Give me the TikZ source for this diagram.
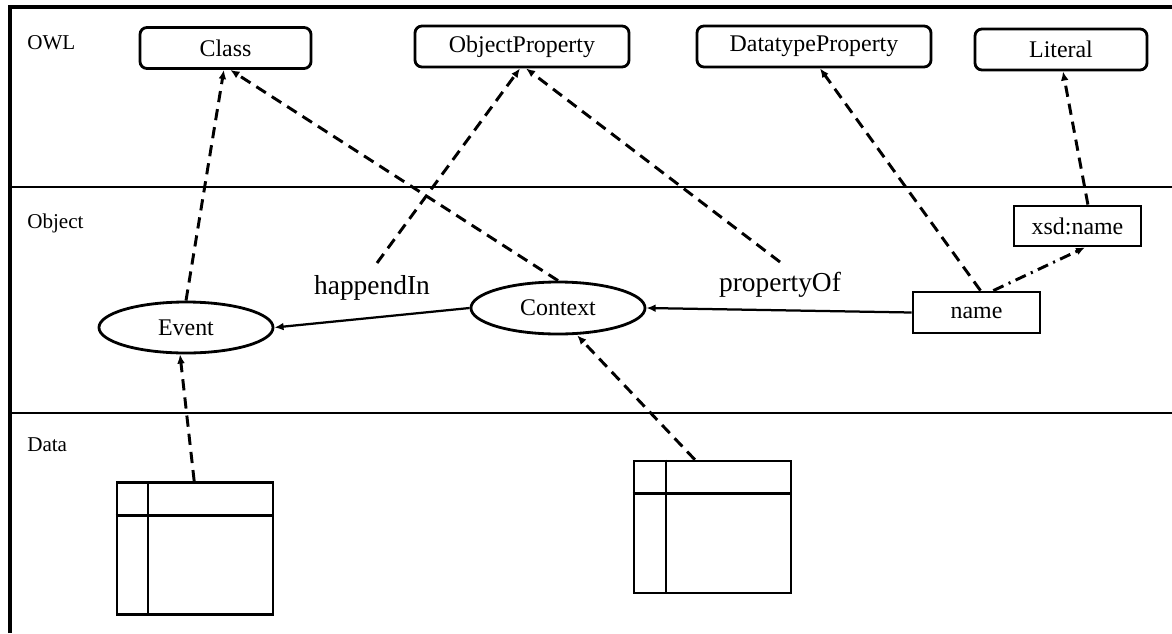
\documentclass[tikz,border=0pt]{standalone}
\usepackage{fontspec}
\setmainfont{Liberation Serif}
\usetikzlibrary{shapes,arrows.meta}
\usetikzlibrary{positioning}
\tikzstyle{owlbox} = [draw, rectangle, rounded corners=5pt, line width=2pt, inner sep=0pt, minimum height=1.025cm, font=\fontsize{17}{20}\selectfont]
\tikzstyle{instance} = [draw, ellipse, line width=2pt, inner sep=0pt, minimum width=4.35cm, minimum height=1.3cm, font=\fontsize{17}{20}\selectfont]
\tikzstyle{attr} = [draw, rectangle, line width=2pt, inner sep=0pt, minimum width=3.175cm, minimum height=1.0cm, font=\fontsize{17}{20}\selectfont]
\tikzstyle{layer} = [anchor=west, inner sep=0pt, font=\fontsize{15}{18}\selectfont]
\tikzstyle{relation} = [inner sep=0pt, font=\fontsize{19.5}{23}\selectfont]
\tikzstyle{table} = [draw, rectangle, line width=1.8pt, minimum width=3.9cm, minimum height=3.3cm]
\tikzstyle{typeof} = [->, line width=2.1pt, dash pattern=on 8pt off 5pt]
\tikzstyle{link} = [->, line width=1.6pt]

\begin{document}
\begin{tikzpicture}[x=0.025cm, y=-0.025cm, >={Latex[length=6.5pt,width=5.5pt]}]
    \useasboundingbox (0,0) rectangle (1172,633);

    % Layers
    \draw [line width=2.2pt] (10,633) -- (10,7) -- (1172,7);
    \draw [line width=1.7pt] (10,187) -- (1172,187);
    \draw [line width=1.7pt] (10,413) -- (1172,413);
    \node [layer] (owl) at (27,43) {OWL};
    \node [layer] (object) at (27,223) {Object};
    \node [layer] (data) at (27,445) {Data};

    % Placing the OWL terms
    \node [owlbox, minimum width=4.275cm] (class) at (225.5,48) {Class};
    \node [owlbox, minimum width=5.35cm] (objprop) at (522,46.5) {ObjectProperty};
    \node [owlbox, minimum width=5.85cm] (dataprop) at (814,46.5) {DatatypeProperty};
    \node [owlbox, minimum width=4.3cm] (literal) at (1061,49.5) {Literal};

    % Placing the objects
    \node [instance, minimum height=1.275cm] (event) at (186,327.5) {Event};
    \node [instance] (context) at (558,308) {Context};
    \node [attr, minimum height=1.025cm] (name) at (976.5,312.5) {name};
    \node [attr] (xsdname) at (1077.5,226) {xsd:name};
    \node [relation] (happendin) at (372,288) {happendIn};
    \node [relation] (propertyof) at (780,285) {propertyOf};
    \coordinate (hin) at (377,263);
    \coordinate (pof) at (780,262);

    % Placing the tables
    \node [table] (taba) at (195,548.5) {};
    \node [table, minimum width=3.925cm] (tabb) at (712.5,527) {};
    \draw [line width=1.5pt] ([xshift=0.8cm]taba.north west) -- ([xshift=0.8cm]taba.south west);
    \draw [line width=1.8pt] ([yshift=-0.85cm]taba.north west) -- ([yshift=-0.85cm]taba.north east);
    \draw [line width=1.5pt] ([xshift=0.825cm]tabb.north west) -- ([xshift=0.825cm]tabb.south west);
    \draw [line width=1.8pt] ([yshift=-0.85cm]tabb.north west) -- ([yshift=-0.85cm]tabb.north east);

    % Connecting the nodes
    \draw [typeof] (event.north) -- ([xshift=-0.04cm]class.south);
    \draw [typeof] (context.north) -- ([xshift=0.12cm]class.south);
    \draw [typeof] (hin) -- ([xshift=-0.05cm]objprop.south);
    \draw [typeof] (pof) -- ([xshift=0.1cm]objprop.south);
    \draw [typeof] ([xshift=0.1cm]name.north) -- ([xshift=0.15cm]dataprop.south);
    \draw [typeof] ([xshift=0.26cm]xsdname.north) -- ([xshift=0.05cm]literal.south);
    \draw [->, line width=2.1pt, dash pattern=on 8pt off 4pt on 1.5pt off 4pt] ([xshift=0.42cm]name.north) -- ([xshift=0.19cm]xsdname.south);
    \draw [link] (context.west) -- (event.east);
    \draw [link] (name.west) -- (context.east);
    \draw [typeof] ([xshift=-0.02cm]taba.north) -- ([xshift=-0.15cm]event.south);
    \draw [typeof] ([xshift=-0.44cm]tabb.north) -- ([xshift=0.48cm]context.south);
\end{tikzpicture}
\end{document}
